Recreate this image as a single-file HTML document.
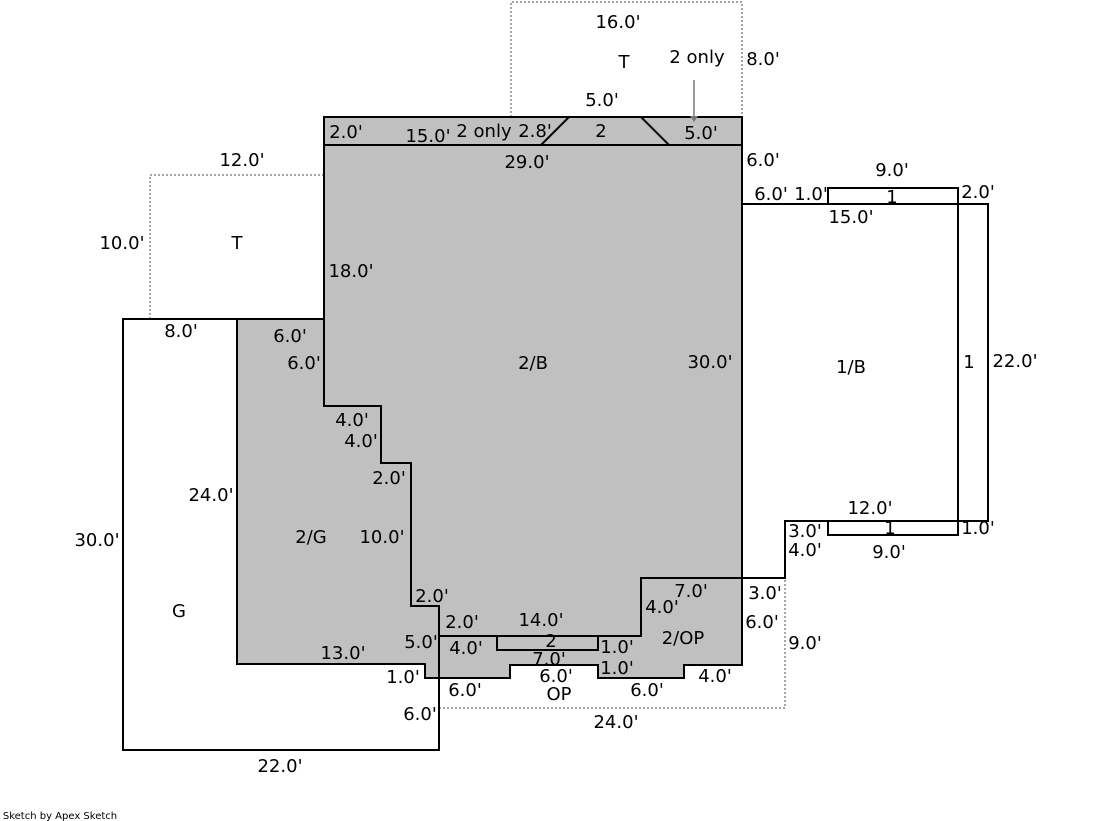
<!DOCTYPE html>
<html><head><meta charset="utf-8"><style>
html,body{margin:0;padding:0;background:#fff}
svg{display:block}
text{font-family:"DejaVu Sans","Liberation Sans",sans-serif;font-size:18px;fill:#000;text-anchor:middle}
</style></head><body>
<svg width="1119" height="821" viewBox="0 0 1119 821" xmlns="http://www.w3.org/2000/svg">
<g fill="none" stroke="#888" stroke-width="1.5" stroke-dasharray="2,2">
<polyline points="150,319 150,175 324,175"/>
<polyline points="511,117 511,2 742,2 742,117"/>
<polyline points="439,708 785,708 785,578"/>
</g>
<rect x="123" y="319" width="316" height="431" fill="#fff" stroke="#000" stroke-width="2"/>
<polygon points="324,117 742,117 742,665 684,665 684,678 598,678 598,665 510,665 510,678 425,678 425,664 237,664 237,319 324,319" fill="#c0c0c0" stroke="#000" stroke-width="2"/>
<g fill="none" stroke="#000" stroke-width="2">
<line x1="324" y1="145" x2="742" y2="145"/>
<line x1="569" y1="117" x2="541" y2="145"/>
<line x1="641" y1="117" x2="669" y2="145"/>
<polyline points="324,319 324,406 381,406 381,463 411,463 411,606 439,606 439,636 641,636 641,578 742,578"/>
<line x1="439" y1="636" x2="439" y2="750"/>
<rect x="497" y="636" width="101" height="14"/>
<polygon points="742,204 958,204 958,521 785,521 785,578 742,578"/>
<rect x="828" y="188" width="130" height="16"/>
<rect x="958" y="204" width="30" height="317"/>
<rect x="828" y="521" width="130" height="14"/>
</g>
<line x1="694" y1="80" x2="694" y2="118" stroke="#777" stroke-width="1.5"/>
<polygon points="690,116 698,116 694,122" fill="#777"/>
<text x="618" y="28">16.0'</text><text x="624" y="68">T</text><text x="697" y="63">2 only</text><text x="763" y="65">8.0'</text>
<text x="602" y="106">5.0'</text><text x="346" y="138">2.0'</text><text x="428" y="142">15.0'</text><text x="484" y="137">2 only</text><text x="535" y="137">2.8'</text>
<text x="601" y="137">2</text><text x="701" y="139">5.0'</text><text x="527" y="168">29.0'</text><text x="763" y="166">6.0'</text>
<text x="242" y="166">12.0'</text><text x="892" y="176">9.0'</text><text x="771" y="200">6.0'</text><text x="811" y="200">1.0'</text>
<text x="892" y="203">1</text><text x="978" y="198">2.0'</text><text x="851" y="223">15.0'</text><text x="122" y="249">10.0'</text>
<text x="237" y="249">T</text><text x="351" y="277">18.0'</text><text x="181" y="337">8.0'</text><text x="290" y="342">6.0'</text>
<text x="304" y="369">6.0'</text><text x="533" y="369">2/B</text><text x="710" y="368">30.0'</text><text x="851" y="373">1/B</text>
<text x="969" y="368">1</text><text x="1015" y="367">22.0'</text><text x="352" y="426">4.0'</text><text x="361" y="447">4.0'</text>
<text x="389" y="484">2.0'</text><text x="211" y="501">24.0'</text><text x="870" y="514">12.0'</text><text x="805" y="537">3.0'</text>
<text x="890" y="534">1</text><text x="978" y="534">1.0'</text><text x="97" y="546">30.0'</text><text x="311" y="543">2/G</text>
<text x="382" y="543">10.0'</text><text x="805" y="556">4.0'</text><text x="889" y="558">9.0'</text><text x="691" y="597">7.0'</text>
<text x="765" y="599">3.0'</text><text x="432" y="602">2.0'</text><text x="662" y="613">4.0'</text><text x="179" y="617">G</text>
<text x="462" y="628">2.0'</text><text x="541" y="626">14.0'</text><text x="762" y="628">6.0'</text><text x="683" y="644">2/OP</text>
<text x="805" y="649">9.0'</text><text x="421" y="648">5.0'</text><text x="466" y="654">4.0'</text><text x="551" y="647">2</text>
<text x="617" y="653">1.0'</text><text x="343" y="659">13.0'</text><text x="549" y="665">7.0'</text><text x="617" y="674">1.0'</text>
<text x="556" y="682">6.0'</text><text x="403" y="683">1.0'</text><text x="465" y="696">6.0'</text><text x="559" y="700">OP</text>
<text x="647" y="696">6.0'</text><text x="715" y="682">4.0'</text><text x="420" y="720">6.0'</text><text x="616" y="728">24.0'</text>
<text x="280" y="772">22.0'</text>
<text x="60" y="819" style="font-size:10px">Sketch by Apex Sketch</text>
</svg>
</body></html>
